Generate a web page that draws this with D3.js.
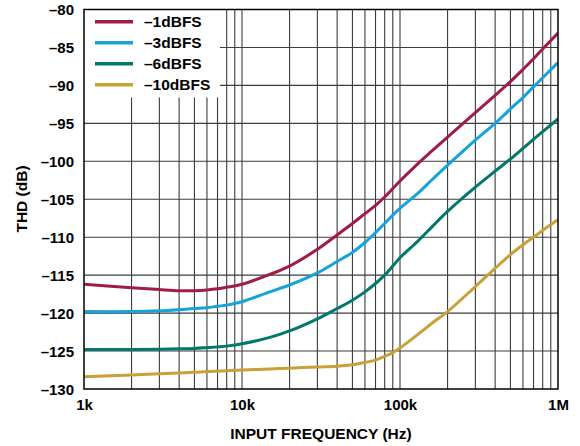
<!DOCTYPE html>
<html>
<head>
<meta charset="utf-8">
<script src="https://cdn.jsdelivr.net/npm/d3@7"></script>
<style>
  html, body { margin: 0; padding: 0; background: #fff; }
  svg { display: block; }
  text { font-family: "Liberation Sans", Arial, Helvetica, sans-serif; font-weight: bold; fill: #000; }
</style>
</head>
<body>
<svg id="chart" width="580" height="446"></svg>
<script>
// ---- data ----
const freqs = [1e3, 2e3, 3e3, 4e3, 5e3, 6e3, 7e3, 8e3, 10e3, 15e3, 20e3, 30e3, 40e3, 50e3, 60e3, 70e3, 80e3, 90e3, 100e3, 130e3, 160e3, 200e3, 300e3, 400e3, 500e3, 600e3, 700e3, 800e3, 1e6];
const thd1dBFS  = [-116.2, -116.65, -116.9, -117.05, -117.05, -116.95, -116.8, -116.6, -116.2, -114.9, -113.8, -111.6, -109.7, -108.2, -106.9, -105.8, -104.7, -103.6, -102.6, -100.3, -98.6, -96.8, -93.6, -91.3, -89.5, -87.9, -86.5, -85.2, -83.1];
const thd3dBFS  = [-119.8, -119.8, -119.7, -119.55, -119.4, -119.3, -119.1, -118.95, -118.5, -117.2, -116.3, -114.7, -113.2, -112.0, -110.7, -109.4, -108.2, -107.1, -106.2, -104.2, -102.4, -100.5, -97.2, -95.0, -93.1, -91.6, -90.2, -89.0, -87.0];
const thd6dBFS  = [-124.8, -124.8, -124.75, -124.7, -124.65, -124.55, -124.45, -124.35, -124.05, -123.2, -122.35, -120.75, -119.4, -118.3, -117.2, -116.1, -115.0, -113.8, -112.7, -110.5, -108.6, -106.6, -103.4, -101.3, -99.7, -98.3, -97.1, -96.1, -94.4];
const thd10dBFS = [-128.4, -128.15, -128.0, -127.9, -127.8, -127.7, -127.65, -127.6, -127.5, -127.35, -127.25, -127.1, -127.0, -126.8, -126.5, -126.2, -125.7, -125.2, -124.6, -122.8, -121.3, -119.8, -116.5, -114.1, -112.3, -111.0, -110.0, -109.1, -107.7];
const seriesNames = ["\u20131dBFS", "\u20133dBFS", "\u20136dBFS", "\u201310dBFS"];
const seriesColors = ["#a11c45", "#14a3dc", "#00786c", "#c9a036"];
const yTicks = [-130, -125, -120, -115, -110, -105, -100, -95, -90, -85, -80];
const xTickValues = [1e3, 1e4, 1e5, 1e6];
const xTickLabels = ["1k", "10k", "100k", "1M"];

const seriesData = [thd1dBFS, thd3dBFS, thd6dBFS, thd10dBFS];

// ---- layout ----
const svg = d3.select("#chart");
const L = 84, R = 558, T = 9.5, B = 389;
const x = d3.scaleLog().domain([1e3, 1e6]).range([L, R]);
const y = d3.scaleLinear().domain([-130, -80]).range([B, T]);

// grid
const gridColor = "#3c3c3c";
const gx = svg.append("g");
const minor = [];
for (let d = 1e3; d < 1e6; d *= 10) for (let k = 1; k <= 9; k++) { const v = d * k; if (v > 1e3 && v < 1e6) minor.push(v); }
gx.selectAll("line.v").data(minor).enter().append("line")
  .attr("x1", d => x(d)).attr("x2", d => x(d)).attr("y1", T).attr("y2", B)
  .attr("stroke", gridColor).attr("stroke-width", 1.1);
gx.selectAll("line.h").data(yTicks.slice(1, -1)).enter().append("line")
  .attr("x1", L).attr("x2", R).attr("y1", d => y(d)).attr("y2", d => y(d))
  .attr("stroke", gridColor).attr("stroke-width", 1.1);

// legend background
svg.append("rect").attr("x", L).attr("y", T).attr("width", 136).attr("height", 88).attr("fill", "#fff");

// clip
svg.append("clipPath").attr("id", "plotclip").append("rect")
  .attr("x", L).attr("y", T).attr("width", R - L).attr("height", B - T);

const line = d3.line().x(d => x(d[0])).y(d => y(d[1])).curve(d3.curveCatmullRom.alpha(0.5));
const curves = svg.append("g").attr("clip-path", "url(#plotclip)");
seriesData.forEach((vals, i) => {
  curves.append("path")
    .datum(freqs.map((f, j) => [f, vals[j]]))
    .attr("d", line)
    .attr("fill", "none")
    .attr("stroke", seriesColors[i])
    .attr("stroke-width", 3)
    .attr("stroke-linejoin", "round");
});

// frame
svg.append("rect").attr("x", L).attr("y", T).attr("width", R - L).attr("height", B - T)
  .attr("fill", "none").attr("stroke", "#000").attr("stroke-width", 1.5);

// axes labels (via d3 axes, styled)
const yAxis = d3.axisLeft(y).tickValues(yTicks).tickSize(0).tickPadding(10)
  .tickFormat(d => d3.format("d")(d).replace("-", "\u2013").replace("\u2212", "\u2013"));
const ya = svg.append("g").attr("transform", `translate(${L},0)`).call(yAxis);
ya.select(".domain").remove();
ya.selectAll("text").attr("font-size", 15).attr("font-family", "Liberation Sans, Arial, sans-serif")
  .attr("font-weight", "bold").attr("fill", "#000").attr("x", -10).attr("dy", "0.36em");

const xAxis = d3.axisBottom(x).tickValues(xTickValues).tickSize(0).tickPadding(10)
  .tickFormat((d, i) => xTickLabels[i]);
const xa = svg.append("g").attr("transform", `translate(0,${B})`).call(xAxis);
xa.select(".domain").remove();
xa.selectAll("text").attr("font-size", 15).attr("font-family", "Liberation Sans, Arial, sans-serif")
  .attr("font-weight", "bold").attr("fill", "#000").attr("y", 0).attr("dy", 21);

// axis titles
svg.append("text").attr("x", 321).attr("y", 439).attr("text-anchor", "middle")
  .attr("font-size", 15.5).text("INPUT FREQUENCY (Hz)");
svg.append("text").attr("transform", "translate(27,199) rotate(-90)").attr("text-anchor", "middle")
  .attr("font-size", 15.5).text("THD (dB)");

// legend
const lg = svg.append("g");
seriesNames.forEach((name, i) => {
  const ly = 21.7 + i * 21;
  lg.append("line").attr("x1", 95).attr("x2", 133).attr("y1", ly).attr("y2", ly)
    .attr("stroke", seriesColors[i]).attr("stroke-width", 3.5);
  lg.append("text").attr("x", 144).attr("y", ly + 5.5).attr("font-size", 15.5).text(name);
});
</script>
</body>
</html>
